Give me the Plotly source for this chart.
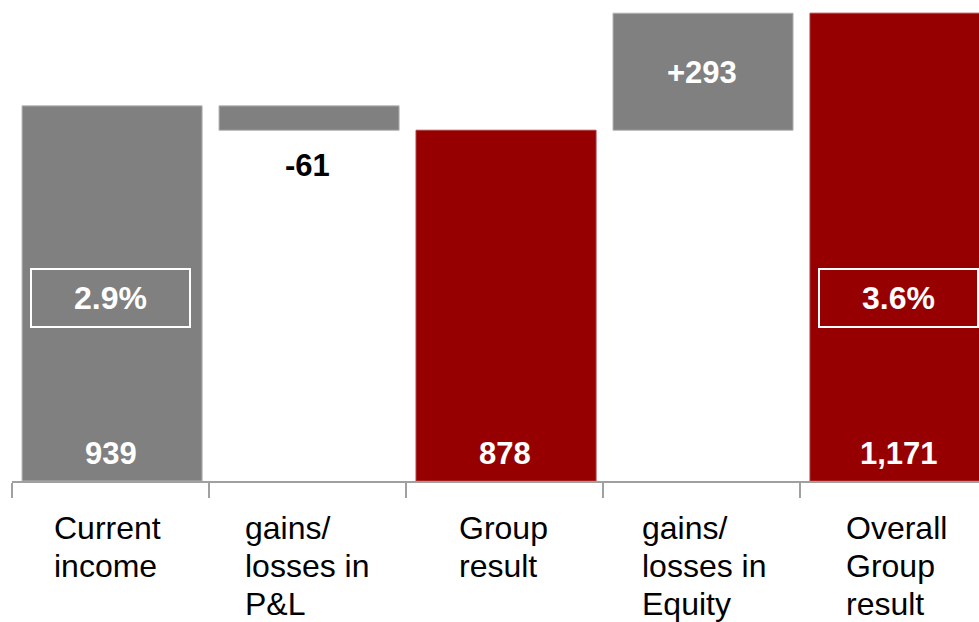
import plotly.graph_objects as go

# Waterfall from current income to overall group result
categories = [
    "Current<br>income",
    "gains/<br>losses in<br>P&L",
    "Group<br>result",
    "gains/<br>losses in<br>Equity",
    "Overall<br>Group<br>result",
]
current_income = 939
pl_change = -61
equity_change = 293
return_labels = ["2.9%", "3.6%"]

group_result = current_income + pl_change
overall_result = group_result + equity_change

heights = [current_income, pl_change, group_result, equity_change, overall_result]
bases = [0, current_income, 0, group_result, 0]

GRAY = "#808080"
RED = "#970000"
colors = [GRAY, GRAY, RED, GRAY, RED]
edge = ["#b4b4b4", "#b4b4b4", "#b03c3c", "#b4b4b4", "#b03c3c"]

xs = list(range(len(categories)))

fig = go.Figure(
    go.Bar(
        x=xs,
        y=heights,
        base=bases,
        width=0.914,
        offset=-0.449,
        marker=dict(color=colors, line=dict(color=edge, width=1)),
        hoverinfo="skip",
    )
)

FONT = "Liberation Sans, Arial, sans-serif"
ann = []

# Totals printed near the base of the solid bars
for i in (0, 2, 4):
    ann.append(dict(
        x=i, y=0, xref="x", yref="y", yanchor="middle", yshift=28, xshift=1,
        text=f"<b>{heights[i]:,}</b>", showarrow=False,
        font=dict(family=FONT, size=31, color="white"),
    ))

# Step labels
ann.append(dict(
    x=1, y=group_result, xref="x", yref="y", yanchor="middle", yshift=-35,
    text=f"<b>{pl_change:,}</b>", showarrow=False,
    font=dict(family=FONT, size=31, color="black"),
))
ann.append(dict(
    x=3, y=group_result + equity_change / 2, xref="x", yref="y", yanchor="middle",
    yshift=-1, xshift=1,
    text=f"<b>{equity_change:+,}</b>", showarrow=False,
    font=dict(family=FONT, size=31, color="white"),
))

# Return figures in outlined boxes
for i, lab in zip((0, 4), return_labels):
    ann.append(dict(
        x=i, y=0, xref="x", yref="y", yanchor="middle", yshift=183,
        text=f"<b>{lab}</b>", showarrow=False,
        width=155, height=54, borderpad=1,
        bordercolor="white", borderwidth=2,
        font=dict(family=FONT, size=32, color="white"),
    ))

# Category labels: one annotation per line so the lines share a left edge
# and a compact line pitch
label_left = [-58, -64, -47, -61, -54]   # block left edge relative to category centre (px)
LINE_PITCH = 38
for i, c in enumerate(categories):
    for j, line in enumerate(c.split("<br>")):
        ann.append(dict(
            x=i, y=0, xref="x", yref="y", yanchor="top", xanchor="left",
            yshift=-27 - LINE_PITCH * j, xshift=label_left[i],
            text=line, showarrow=False,
            font=dict(family=FONT, size=32, color="black"),
        ))

fig.update_layout(
    width=979, height=622,
    margin=dict(l=12, r=0, t=0, b=141),
    paper_bgcolor="white", plot_bgcolor="white",
    showlegend=False,
    annotations=ann,
    xaxis=dict(
        range=[-0.5, 4.409],
        showgrid=False, zeroline=False,
        showline=True, linecolor="#a0a0a0", linewidth=2,
        ticks="outside", ticklen=15, tickwidth=2, tickcolor="#a0a0a0",
        tickvals=[-0.5, 0.5, 1.5, 2.5, 3.5],
        ticktext=["", "", "", "", ""],
    ),
    yaxis=dict(range=[0, 1204], visible=False),
)

fig.write_html("out.html")
